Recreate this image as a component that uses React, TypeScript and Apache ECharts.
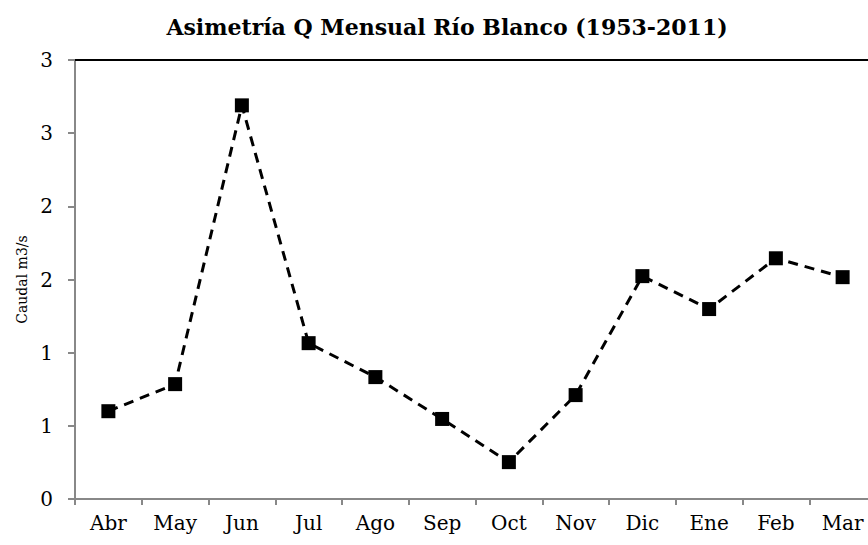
import React, { useEffect, useRef } from "react";
import * as echarts from "echarts";

const categories = ["Abr", "May", "Jun", "Jul", "Ago", "Sep", "Oct", "Nov", "Dic", "Ene", "Feb", "Mar"];
const values = [0.6, 0.785, 2.69, 1.065, 0.833, 0.547, 0.252, 0.71, 1.523, 1.298, 1.645, 1.516];
const title = "Asimetría Q Mensual Río Blanco (1953-2011)";
const yName = "Caudal m3/s";

const FONT = "DejaVu Serif";

export default function App() {
  const ref = useRef<HTMLDivElement>(null);
  useEffect(() => {
    const chart = echarts.init(ref.current!, undefined, { renderer: "svg" });
    chart.setOption({
      animation: false,
      backgroundColor: "#fff",
      textStyle: { fontFamily: FONT },
      graphic: [
        {
          type: "text",
          x: 447,
          y: 27,
          style: {
            text: title,
            fontFamily: FONT,
            fontWeight: "bold",
            fontSize: 22,
            fill: "#000",
            textAlign: "center",
            textVerticalAlign: "middle",
          },
        },
      ],
      grid: { left: 75, right: 0, top: 60, bottom: 46 },
      xAxis: [
        {
          type: "category",
          data: categories,
          boundaryGap: true,
          axisLine: { lineStyle: { color: "#888", width: 2 } },
          axisTick: { show: true, interval: 0, length: 6, lineStyle: { color: "#888", width: 2 } },
          axisLabel: { interval: 0, margin: 14, color: "#000", fontSize: 20, fontFamily: FONT },
        },
        {
          type: "category",
          data: categories,
          position: "top",
          axisLine: { lineStyle: { color: "#000", width: 2 } },
          axisTick: { show: false },
          axisLabel: { show: false },
        },
      ],
      yAxis: {
        type: "value",
        min: 0,
        max: 3,
        interval: 0.5,
        name: yName,
        nameLocation: "middle",
        nameGap: 45,
        nameTextStyle: { fontSize: 14, fontFamily: FONT, color: "#000" },
        axisLine: { show: true, lineStyle: { color: "#888", width: 2 } },
        axisTick: { show: true, length: 7, lineStyle: { color: "#888", width: 2 } },
        splitLine: { show: false },
        axisLabel: {
          margin: 22,
          color: "#000",
          fontSize: 20,
          fontFamily: FONT,
          formatter: (v: number) => String(Math.round(v)),
        },
      },
      series: [
        {
          type: "line",
          data: values,
          symbol: "rect",
          symbolSize: 14,
          itemStyle: { color: "#000" },
          lineStyle: { color: "#000", width: 3, type: [10, 7] },
        },
      ],
    });
    return () => chart.dispose();
  }, []);
  return <div ref={ref} style={{ position: "fixed", left: 0, top: 0, width: 876, height: 545 }} />;
}
